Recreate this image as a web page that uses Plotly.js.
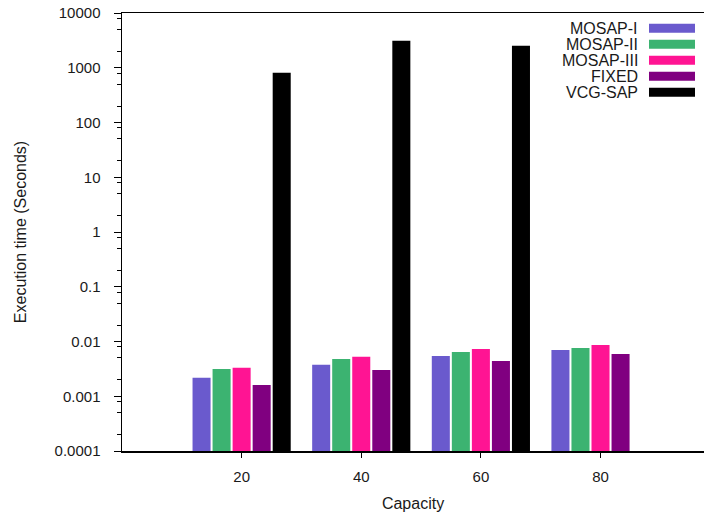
<!DOCTYPE html>
<html><head><meta charset="utf-8">
<script src="https://cdn.plot.ly/plotly-3.0.1.min.js"></script>
<style>body{margin:0;padding:0;background:#fff}#chart{width:704px;height:512px}</style>
</head><body><div id="chart"></div>
<script>
const capacities = [20, 40, 60, 80];
const mosapI   = [0.00218, 0.00377, 0.00543, 0.0070];
const mosapII  = [0.00315, 0.00479, 0.00643, 0.0076];
const mosapIII = [0.00333, 0.00528, 0.00730, 0.00863];
const fixed    = [0.0016, 0.00302, 0.00441, 0.00592];
const vcgSap   = [812, 3119, 2530, null];
const seriesNames  = ['MOSAP-I', 'MOSAP-II', 'MOSAP-III', 'FIXED', 'VCG-SAP'];
const seriesColors = ['#6a5acd', '#3cb371', '#ff1493', '#800080', '#000000'];
const seriesValues = [mosapI, mosapII, mosapIII, fixed, vcgSap];
const yTickVals = [0.0001, 0.001, 0.01, 0.1, 1, 10, 100, 1000, 10000];
const yTickText = ['0.0001', '0.001', '0.01', '0.1', '1', '10', '100', '1000', '10000'];
const minorMult = [2, 5, 8];

const W = 704, H = 512;
const L = 122, R = 0, T = 13, B = 61;
const FONT = '"Liberation Sans", Arial, sans-serif';
const TXT = '#1a1a1a';

const traces = seriesNames.map((n, i) => ({
  type: 'bar', name: n, x: capacities, y: seriesValues[i],
  marker: {color: seriesColors[i], line: {width: 0}},
  showlegend: false, hoverinfo: 'skip'
}));

const minorVals = [];
yTickVals.slice(0, -1).forEach(d => minorMult.forEach(m => minorVals.push(d * m)));

const pw = W - L - R, ph = H - T - B;
const px2x = p => (p - L) / pw;
const py2y = p => (H - B - p) / ph;

const annotations = [], shapes = [];
seriesNames.forEach((n, i) => {
  const cy = 28.3 + 16 * i;
  annotations.push({
    xref: 'paper', yref: 'paper', x: px2x(640), y: py2y(cy),
    xanchor: 'right', yanchor: 'middle', text: n, showarrow: false,
    font: {family: FONT, size: 16, color: TXT}
  });
  shapes.push({
    type: 'rect', xref: 'paper', yref: 'paper',
    x0: px2x(649), x1: px2x(695), y0: py2y(cy - 4.5), y1: py2y(cy + 4.5),
    fillcolor: seriesColors[i], line: {width: 0}
  });
});

const layout = {
  width: W, height: H,
  margin: {l: L, r: R, t: T, b: B, pad: 0},
  paper_bgcolor: '#fff', plot_bgcolor: '#fff',
  font: {family: FONT, size: 15, color: TXT},
  barmode: 'group', bargap: 0.1625, bargroupgap: 0.1,
  xaxis: {
    range: [0, 97.3], tickmode: 'array', tickvals: capacities,
    ticks: 'outside', ticklen: 5, tickcolor: '#000', tickwidth: 1,
    ticklabelstandoff: 6,
    showline: true, linecolor: '#000', linewidth: 1.5, mirror: true,
    showgrid: false, zeroline: false,
    tickfont: {family: FONT, size: 15, color: TXT},
    title: {text: 'Capacity', font: {family: FONT, size: 16, color: TXT}, standoff: 14}
  },
  yaxis: {
    type: 'log', range: [-4, 4], tickmode: 'array', tickvals: yTickVals, ticktext: yTickText,
    ticks: 'outside', ticklen: 7, tickcolor: '#000', tickwidth: 1,
    ticklabelstandoff: 10,
    minor: {tickmode: 'array', tickvals: minorVals, ticks: 'outside', ticklen: 4, tickcolor: '#000', tickwidth: 1, showgrid: false},
    showline: true, linecolor: '#000', linewidth: 1.5, mirror: false,
    showgrid: false, zeroline: false,
    tickfont: {family: FONT, size: 15, color: TXT},
    title: {text: 'Execution time (Seconds)', font: {family: FONT, size: 16, color: TXT}, standoff: 24}
  },
  annotations: annotations,
  shapes: shapes
};

Plotly.newPlot('chart', traces, layout, {staticPlot: true, displayModeBar: false});
</script>
</body></html>
